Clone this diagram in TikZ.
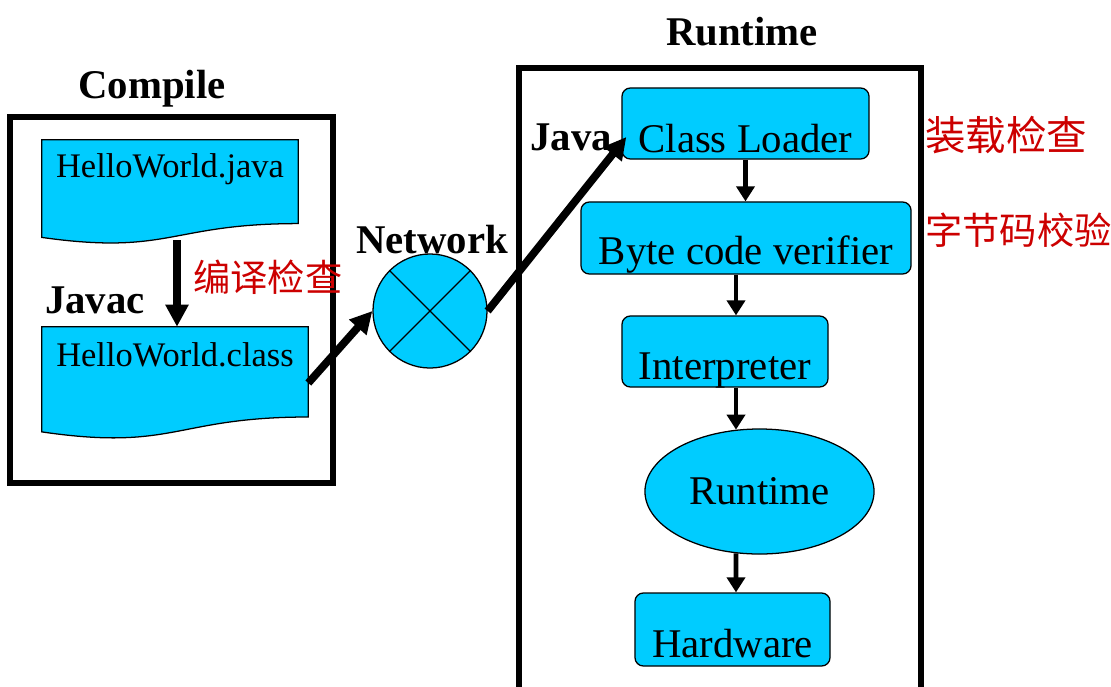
\documentclass[tikz,border=0pt]{standalone}
\usepackage{fontspec}
\setmainfont{Liberation Serif}
\newfontfamily\cjk{Noto Sans CJK SC}
\usepackage{tikz}
\usetikzlibrary{arrows.meta,calc,backgrounds,shapes.geometric}
\definecolor{boxcyan}{HTML}{00CCFF}
\definecolor{checkred}{HTML}{CC0000}
\tikzset{
  frame/.style={draw, line width=3.6pt},
  title/.style={font=\fontsize{29}{34}\selectfont\bfseries, anchor=base},
  doc/.style={inner sep=0pt, font=\fontsize{24.5}{28}\selectfont},
  stage/.style={draw, fill=boxcyan, rounded corners=6pt, inner sep=0pt,
    line width=0.9pt, font=\fontsize{29}{34}\selectfont},
  flow/.style={-{Triangle[length=0.375cm,width=0.45cm]}, line width=3.5pt},
  bigflow/.style={-{Triangle[length=0.55cm,width=0.55cm]}, line width=5.5pt},
  note/.style={text=checkred, anchor=west, inner sep=0pt, font=\cjk\fontsize{26.5}{30}\selectfont}
}
% wavy document outline round a node
\newcommand\docshape[1]{%
  \filldraw[fill=boxcyan, line width=0.9pt] (#1.north west) -- (#1.north east)
    -- ($(#1.south east)!0.198!(#1.north east)$)
    .. controls ($(#1.south)!0.198!(#1.north)$) and ($(#1.south)!-0.1075!(#1.north)$)
    .. ($(#1.south west)!0.066!(#1.north west)$) -- cycle;}

\begin{document}
\begin{tikzpicture}[x=0.025cm,y=-0.025cm]
    \useasboundingbox (0,0) rectangle (1111,686);

    % frames
    \draw[frame] (10,117) rectangle (333,483);
    \draw[frame] (519,68) rectangle (921,720);

    % titles
    \node[title] (compiletitle) at (152,98) {Compile};
    \node[title] (runtimetitle) at (742,45) {Runtime};
    \node[title] (javac) at (95,313) {Javac};
    \node[title] (nettitle) at (432,253) {Network};
    \node[title] (javatitle) at (571,150) {Java};

    % compile side
    \node[doc, minimum width=6.4cm, text height=0.925cm, text depth=1.675cm] (java) at (170,192) {HelloWorld.java};
    \node[doc, minimum width=6.65cm, text height=0.975cm, text depth=1.825cm] (class) at (175,383) {HelloWorld.class};
    \begin{scope}[on background layer]
        \docshape{java}
        \docshape{class}
    \end{scope}
    \draw[bigflow] ($(java.south)+(7,-4)$) -- ($(class.north)+(2,0)$);

    % network
    \node[circle, draw, fill=boxcyan, minimum size=2.85cm, inner sep=0pt, line width=0.9pt] (net) at (430,311) {};
    \draw[line width=0.9pt] (net.north west) -- (net.south east) (net.north east) -- (net.south west);

    % runtime side
    \node[stage, minimum width=6.175cm, text height=1.6cm, text depth=0.175cm] (loader) at (745.5,123.5) {Class Loader};
    \node[stage, minimum width=8.25cm, text height=1.55cm, text depth=0.25cm] (verifier) at (746,238) {Byte code verifier};
    \node[stage, minimum width=5.15cm, text height=1.575cm, text depth=0.2cm] (interp) at (725,351.5) {Interpreter};
    \node[ellipse, draw, fill=boxcyan, inner sep=0pt, line width=0.9pt, minimum width=5.725cm, minimum height=3.125cm,
      font=\fontsize{29}{34}\selectfont] (runtime) at (759.5,491.5) {Runtime};
    \node[stage, minimum width=4.875cm, text height=1.6cm, text depth=0.225cm] (hardware) at (732.5,629.5) {Hardware};

    % connectors
    \draw[bigflow] (class.east) -- (net.west);
    \draw[bigflow] (net.east) -- ($(loader.west)+(5,13.5)$);
    \draw[flow] (loader.south) -- (loader.south |- verifier.north);
    \draw[flow] ($(verifier.south)+(-10,0)$) -- ($(interp.north)+(11,0)$);
    \draw[flow] ($(interp.south)+(11,0)$) -- ($(runtime.north)+(-23.5,1.3)$);
    \draw[flow] ($(runtime.south)+(-23.5,-1.3)$) -- ($(hardware.north)+(3.5,0)$);

    % checks
    \node[note] (compilecheck) at (193,277) {编译检查};
    \node[note, font=\cjk\fontsize{28.8}{32}\selectfont] (loadcheck) at (925,135.5) {装载检查};
    \node[note] (bytecheck) at (925,230) {字节码校验};
\end{tikzpicture}
\end{document}
